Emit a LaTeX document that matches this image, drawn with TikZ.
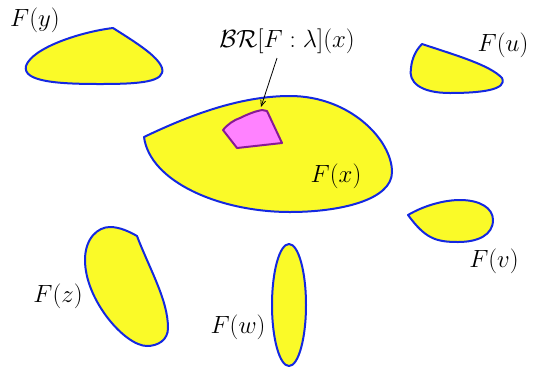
\documentclass[tikz,border=0pt]{standalone}
\usetikzlibrary{arrows.meta}
\definecolor{blobfill}{RGB}{250,250,40}
\definecolor{blobline}{RGB}{20,40,225}
\definecolor{pinkfill}{RGB}{255,130,255}
\definecolor{pinkline}{RGB}{135,25,150}
\begin{document}
\begin{tikzpicture}[x=1pt,y=-1pt,
  blob/.style={fill=blobfill,draw=blobline,line width=2pt,line join=round},
  ball/.style={fill=pinkfill,draw=pinkline,line width=2pt,line join=round},
  lab/.style={inner sep=0pt,font=\fontsize{27}{30}\selectfont},
  pointer/.style={line width=0.8pt,-{Straight Barb[length=6pt,width=5pt]}}]
\useasboundingbox (0,0) rectangle (533,368);
% F(y)
\path[blob] (113,28) .. controls (135,42) and (158,56) .. (162,68)
  .. controls (166,82) and (140,84) .. (100,84)
  .. controls (60,84) and (22,82) .. (26,66)
  .. controls (32,48) and (80,32) .. (113,28) -- cycle;
% F(u)
\path[blob] (422,44) .. controls (455,55) and (490,65) .. (502,78)
  .. controls (508,90) and (480,93) .. (450,93)
  .. controls (420,93) and (408,82) .. (411,68)
  .. controls (412,58) and (416,50) .. (422,44) -- cycle;
% F(x)
\path[blob] (144,137) .. controls (190,115) and (240,96) .. (290,96)
  .. controls (350,96) and (392,140) .. (392,172)
  .. controls (392,200) and (340,212) .. (290,212)
  .. controls (220,212) and (150,182) .. (144,137) -- cycle;
% BR
\path[ball] (223,130) .. controls (228,124) and (234,120) .. (240,118)
  .. controls (248,114) and (256,111) .. (262,110) -- (267,111) -- (282,143)
  -- (237,148) -- cycle;
% F(z)
\path[blob] (137,236) .. controls (150,270) and (168,300) .. (168,328)
  .. controls (168,340) and (158,346) .. (147,346)
  .. controls (125,346) and (85,300) .. (85,260)
  .. controls (85,238) and (98,227) .. (110,227)
  .. controls (120,227) and (130,232) .. (137,236) -- cycle;
% F(w)
\path[blob] (289,305) ellipse [x radius=17, y radius=61];
% F(v)
\path[blob] (408,215) .. controls (425,205) and (445,200) .. (460,200)
  .. controls (480,200) and (493,208) .. (493,220)
  .. controls (493,235) and (478,242) .. (458,242)
  .. controls (435,242) and (425,238) .. (408,215) -- cycle;
% labels
\node[lab] (ly) at (35,20) {$F(y)$};
\node[lab] (lu) at (503,45) {$F(u)$};
\node[lab] (lx) at (336,176) {$F(x)$};
\node[lab] (lz) at (58,296) {$F(z)$};
\node[lab] (lw) at (238,327) {$F(w)$};
\node[lab] (lv) at (494,261) {$F(v)$};
\node[lab] (lbr) at (287,41) {$\mathcal{BR}[F:\lambda](x)$};
\coordinate (tail) at (277,58);
\coordinate (tip) at (261,107);
\draw[pointer] (tail) -- (tip);
\end{tikzpicture}
\end{document}
